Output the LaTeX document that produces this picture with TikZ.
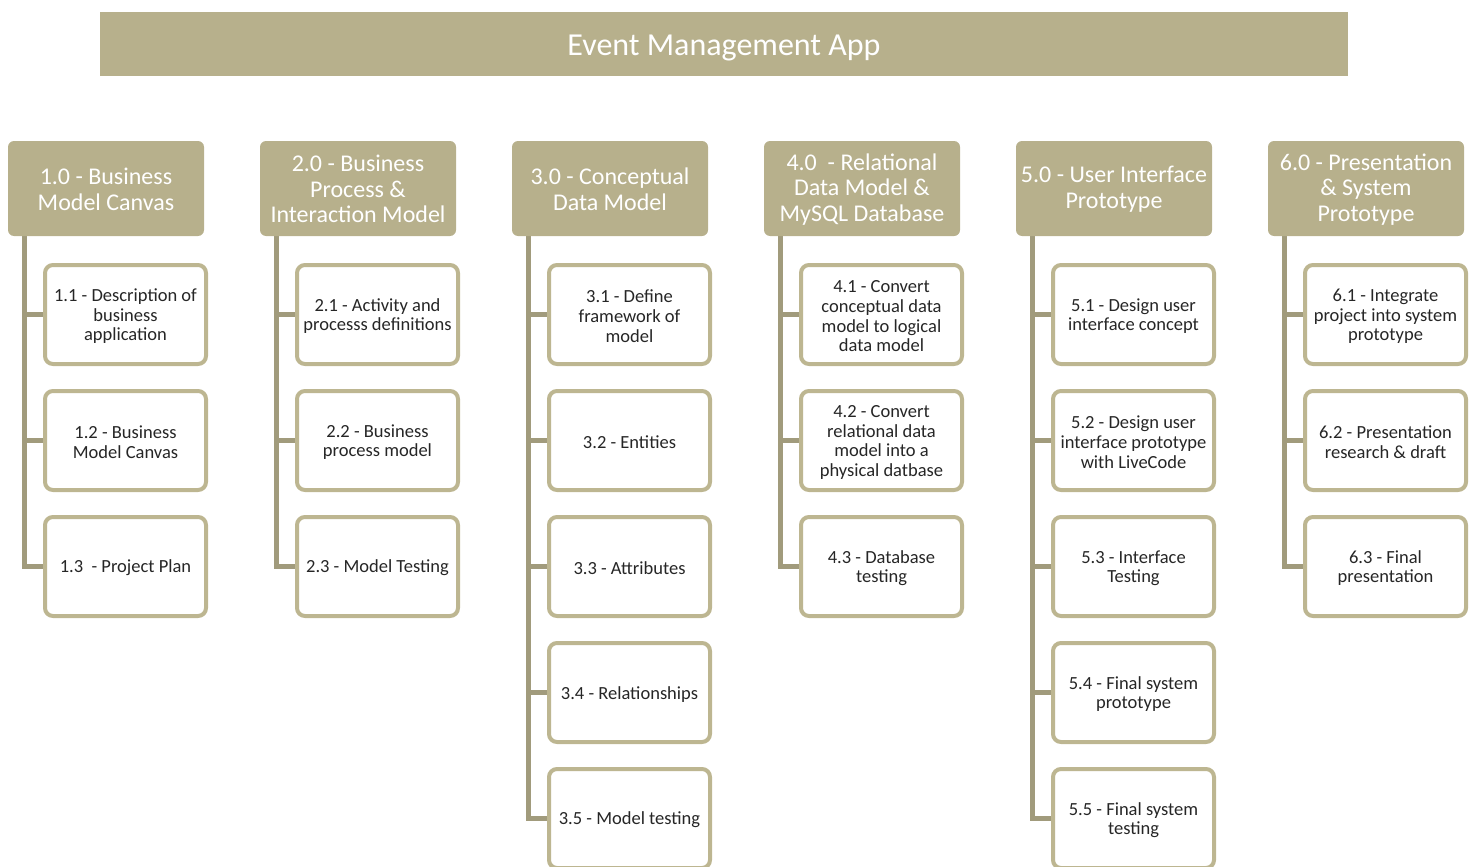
\documentclass[tikz,border=0pt]{standalone}
\usepackage{fontspec}
\setmainfont{Carlito}
\pgfdeclarelayer{background}
\pgfsetlayers{background,main}
\definecolor{khaki}{HTML}{B7B08C}
\definecolor{khakiline}{HTML}{BDB691}
\definecolor{trunkcol}{HTML}{A19B7C}
\definecolor{txt}{HTML}{262626}
% zero-width struts on the first text line lower the text a little in its box
\newcommand{\taskstrut}{\rule{0pt}{16pt}}
\newcommand{\headstrut}{\rule{0pt}{18pt}}
\tikzset{
  titlebar/.style={fill=khaki, draw=none, minimum width=1248pt, minimum height=64pt,
    inner sep=0pt, text=white, font=\fontsize{32}{36}\selectfont},
  header/.style={fill=khaki, draw=none, rounded corners=6pt, minimum width=196pt,
    minimum height=95pt, inner sep=0pt, text=white, align=center,
    font=\fontsize{24}{25.5}\selectfont},
  task/.style={fill=white, draw=khakiline, line width=4pt, rounded corners=8pt,
    minimum width=161pt, minimum height=99pt, inner sep=0pt, text=txt, align=center,
    font=\fontsize{18.5}{19.7}\selectfont},
  trunk/.style={draw=trunkcol, line width=5pt},
}
\begin{document}
\begin{tikzpicture}[x=1pt, y=-1pt]
\useasboundingbox (0,0) rectangle (1476,867);

\node[titlebar] (title) at (724,44) {\rule{0pt}{28pt}Event Management App};

% phase headers
\node[header] (h1) at (106,188.5) {\headstrut 1.0 - Business\\Model Canvas};
\node[header] (h2) at (358,188.5) {\headstrut 2.0 - Business\\Process \&\\Interaction Model};
\node[header] (h3) at (610,188.5) {\headstrut 3.0 - Conceptual\\Data Model};
\node[header] (h4) at (862,188.5) {\headstrut 4.0~ - Relational\\Data Model \&\\MySQL Database};
\node[header] (h5) at (1114,188.5) {\headstrut 5.0 - User Interface\\Prototype};
\node[header] (h6) at (1366,188.5) {\headstrut 6.0 - Presentation\\\& System\\Prototype};

% tasks of phase 1
\node[task] (t11) at (125.5,314.5) {\taskstrut 1.1 - Description of\\business\\application};
\node[task] (t12) at (125.5,440.5) {\taskstrut 1.2 - Business\\Model Canvas};
\node[task] (t13) at (125.5,566.5) {\taskstrut 1.3~ - Project Plan};
% tasks of phase 2
\node[task] (t21) at (377.5,314.5) {\taskstrut 2.1 - Activity and\\processs definitions};
\node[task] (t22) at (377.5,440.5) {\taskstrut 2.2 - Business\\process model};
\node[task] (t23) at (377.5,566.5) {\taskstrut 2.3 - Model Testing};
% tasks of phase 3
\node[task] (t31) at (629.5,314.5) {\taskstrut 3.1 - Define\\framework of\\model};
\node[task] (t32) at (629.5,440.5) {\taskstrut 3.2 - Entities};
\node[task] (t33) at (629.5,566.5) {\taskstrut 3.3 - Attributes};
\node[task] (t34) at (629.5,692.5) {\taskstrut 3.4 - Relationships};
\node[task] (t35) at (629.5,818.5) {\taskstrut 3.5 - Model testing};
% tasks of phase 4
\node[task] (t41) at (881.5,314.5) {\taskstrut 4.1 - Convert\\conceptual data\\model to logical\\data model};
\node[task] (t42) at (881.5,440.5) {\taskstrut 4.2 - Convert\\relational data\\model into a\\physical datbase};
\node[task] (t43) at (881.5,566.5) {\taskstrut 4.3 - Database\\testing};
% tasks of phase 5
\node[task] (t51) at (1133.5,314.5) {\taskstrut 5.1 - Design user\\interface concept};
\node[task] (t52) at (1133.5,440.5) {\taskstrut 5.2 - Design user\\interface prototype\\with LiveCode};
\node[task] (t53) at (1133.5,566.5) {\taskstrut 5.3 - Interface\\Testing};
\node[task] (t54) at (1133.5,692.5) {\taskstrut 5.4 - Final system\\prototype};
\node[task] (t55) at (1133.5,818.5) {\taskstrut 5.5 - Final system\\testing};
% tasks of phase 6
\node[task] (t61) at (1385.5,314.5) {\taskstrut 6.1 - Integrate\\project into system\\prototype};
\node[task] (t62) at (1385.5,440.5) {\taskstrut 6.2 - Presentation\\research \& draft};
\node[task] (t63) at (1385.5,566.5) {\taskstrut 6.3 - Final\\presentation};

% trunk lines from each header down to its tasks
\begin{pgfonlayer}{background}
  \foreach \h/\last/\rest in {1/3/{1,2}, 2/3/{1,2}, 3/5/{1,2,3,4}, 4/3/{1,2}, 5/5/{1,2,3,4}, 6/3/{1,2}} {
    \coordinate (s\h) at ([xshift=17pt]h\h.south west);
    \draw[trunk] (s\h) |- (t\h\last.west);
    \foreach \k in \rest {
      \draw[trunk] (s\h |- t\h\k.west) -- (t\h\k.west);
    }
  }
\end{pgfonlayer}
\end{tikzpicture}
\end{document}
